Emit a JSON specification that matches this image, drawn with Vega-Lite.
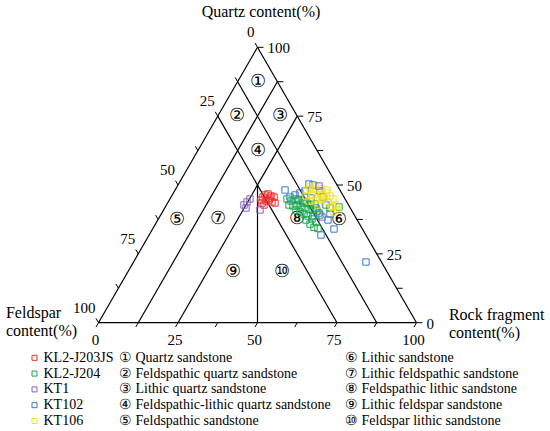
{
  "$schema": "https://vega.github.io/schema/vega-lite/v6.json",
  "width": 318,
  "height": 275.4,
  "autosize": {"type": "none"},
  "padding": {"left": 98.5, "top": 47.3, "right": 133.5, "bottom": 108.3},
  "background": "white",
  "config": {"view": {"stroke": null}, "font": "Liberation Serif, Times New Roman, serif"},
  "datasets": {
    "lines": [
      {"x": 0, "y": 0, "x2": 100, "y2": 0},
      {"x": 0, "y": 0, "x2": 50, "y2": 100},
      {"x": 100, "y": 0, "x2": 50, "y2": 100},
      {"x": 43.75, "y": 87.5, "x2": 87.5, "y2": 0},
      {"x": 37.5, "y": 75, "x2": 75, "y2": 0},
      {"x": 56.25, "y": 87.5, "x2": 12.5, "y2": 0},
      {"x": 62.5, "y": 75, "x2": 25, "y2": 0},
      {"x": 50, "y": 50, "x2": 50, "y2": 0}
    ],
    "ticks": [
      {"side": "bottom", "v": 0, "x": 0, "y": 0, "major": true},
      {"side": "bottom", "v": 12.5, "x": 12.5, "y": 0, "major": false},
      {"side": "bottom", "v": 25, "x": 25, "y": 0, "major": true},
      {"side": "bottom", "v": 37.5, "x": 37.5, "y": 0, "major": false},
      {"side": "bottom", "v": 50, "x": 50, "y": 0, "major": true},
      {"side": "bottom", "v": 62.5, "x": 62.5, "y": 0, "major": false},
      {"side": "bottom", "v": 75, "x": 75, "y": 0, "major": true},
      {"side": "bottom", "v": 87.5, "x": 87.5, "y": 0, "major": false},
      {"side": "bottom", "v": 100, "x": 100, "y": 0, "major": true},
      {"side": "right", "v": 0, "x": 100, "y": 0, "major": true},
      {"side": "right", "v": 12.5, "x": 93.75, "y": 12.5, "major": false},
      {"side": "right", "v": 25, "x": 87.5, "y": 25, "major": true},
      {"side": "right", "v": 37.5, "x": 81.25, "y": 37.5, "major": false},
      {"side": "right", "v": 50, "x": 75, "y": 50, "major": true},
      {"side": "right", "v": 62.5, "x": 68.75, "y": 62.5, "major": false},
      {"side": "right", "v": 75, "x": 62.5, "y": 75, "major": true},
      {"side": "right", "v": 87.5, "x": 56.25, "y": 87.5, "major": false},
      {"side": "right", "v": 100, "x": 50, "y": 100, "major": true},
      {"side": "left", "v": 0, "x": 50, "y": 100, "major": true},
      {"side": "left", "v": 12.5, "x": 43.75, "y": 87.5, "major": false},
      {"side": "left", "v": 25, "x": 37.5, "y": 75, "major": true},
      {"side": "left", "v": 37.5, "x": 31.25, "y": 62.5, "major": false},
      {"side": "left", "v": 50, "x": 25, "y": 50, "major": true},
      {"side": "left", "v": 62.5, "x": 18.75, "y": 37.5, "major": false},
      {"side": "left", "v": 75, "x": 12.5, "y": 25, "major": true},
      {"side": "left", "v": 87.5, "x": 6.25, "y": 12.5, "major": false},
      {"side": "left", "v": 100, "x": 0, "y": 0, "major": true}
    ],
    "regions": [
      {"n": "①", "name": "① Quartz sandstone", "x": 50, "y": 87.5},
      {"n": "②", "name": "② Feldspathic quartz sandstone", "x": 43.6, "y": 75.2},
      {"n": "③", "name": "③ Lithic quartz sandstone", "x": 57, "y": 75.2},
      {"n": "④", "name": "④ Feldspathic-lithic quartz sandstone", "x": 50.2, "y": 62.5},
      {"n": "⑤", "name": "⑤ Feldspathic sandstone", "x": 24.7, "y": 37.3},
      {"n": "⑥", "name": "⑥ Lithic sandstone", "x": 75.6, "y": 37.3},
      {"n": "⑦", "name": "⑦ Lithic feldspathic sandstone", "x": 37.5, "y": 37.6},
      {"n": "⑧", "name": "⑧ Feldspathic lithic sandstone", "x": 62.4, "y": 37.6},
      {"n": "⑨", "name": "⑨ Lithic feldspar sandstone", "x": 42.3, "y": 18.4},
      {"n": "⑩", "name": "⑩ Feldspar lithic sandstone", "x": 57.6, "y": 18.5}
    ],
    "titles": [
      {"t": "Quartz content(%)", "x": 32.45, "y": 115.7},
      {"t": "Feldspar\ncontent(%)", "x": -29.1, "y": 6.3},
      {"t": "Rock fragment\ncontent(%)", "x": 110.2, "y": 5.8}
    ],
    "points": [
      {"s": "KT102", "x": 58.65, "y": 48.18},
      {"s": "KT102", "x": 60.22, "y": 45.64},
      {"s": "KT102", "x": 61.79, "y": 46.37},
      {"s": "KT102", "x": 63.36, "y": 47.09},
      {"s": "KT102", "x": 64.94, "y": 47.82},
      {"s": "KT102", "x": 66.19, "y": 50.36},
      {"s": "KT102", "x": 67.45, "y": 50.0},
      {"s": "KT102", "x": 69.65, "y": 47.82},
      {"s": "KT102", "x": 70.6, "y": 45.64},
      {"s": "KT102", "x": 68.4, "y": 41.65},
      {"s": "KT102", "x": 69.34, "y": 39.83},
      {"s": "KT102", "x": 67.45, "y": 38.74},
      {"s": "KT102", "x": 72.17, "y": 37.29},
      {"s": "KT102", "x": 72.8, "y": 39.47},
      {"s": "KT102", "x": 74.06, "y": 34.02},
      {"s": "KT102", "x": 69.97, "y": 31.84},
      {"s": "KT102", "x": 84.12, "y": 22.04},
      {"s": "KT102", "x": 62.74, "y": 44.55},
      {"s": "KT102", "x": 64.31, "y": 43.46},
      {"s": "KT102", "x": 66.82, "y": 45.28},
      {"s": "KT102", "x": 71.54, "y": 42.74},
      {"s": "KL2-J204", "x": 59.28, "y": 44.92},
      {"s": "KL2-J204", "x": 60.53, "y": 44.19},
      {"s": "KL2-J204", "x": 61.79, "y": 44.92},
      {"s": "KL2-J204", "x": 63.05, "y": 44.55},
      {"s": "KL2-J204", "x": 64.31, "y": 44.19},
      {"s": "KL2-J204", "x": 65.57, "y": 43.46},
      {"s": "KL2-J204", "x": 66.82, "y": 42.74},
      {"s": "KL2-J204", "x": 68.08, "y": 43.1},
      {"s": "KL2-J204", "x": 59.91, "y": 42.74},
      {"s": "KL2-J204", "x": 61.16, "y": 42.37},
      {"s": "KL2-J204", "x": 62.42, "y": 42.74},
      {"s": "KL2-J204", "x": 63.68, "y": 42.01},
      {"s": "KL2-J204", "x": 64.94, "y": 41.65},
      {"s": "KL2-J204", "x": 66.19, "y": 41.29},
      {"s": "KL2-J204", "x": 67.45, "y": 40.92},
      {"s": "KL2-J204", "x": 68.71, "y": 40.56},
      {"s": "KL2-J204", "x": 63.36, "y": 40.2},
      {"s": "KL2-J204", "x": 64.62, "y": 39.47},
      {"s": "KL2-J204", "x": 65.88, "y": 38.74},
      {"s": "KL2-J204", "x": 67.14, "y": 37.65},
      {"s": "KL2-J204", "x": 68.4, "y": 36.56},
      {"s": "KL2-J204", "x": 66.51, "y": 35.8},
      {"s": "KL2-J204", "x": 67.77, "y": 34.6},
      {"s": "KL2-J204", "x": 69.03, "y": 34.2},
      {"s": "KL2-J204", "x": 65.25, "y": 37.29},
      {"s": "KL2-J204", "x": 62.11, "y": 40.92},
      {"s": "KL2-J204", "x": 75.63, "y": 42.01},
      {"s": "KL2-J204", "x": 72.8, "y": 41.65},
      {"s": "KL2-J204", "x": 69.65, "y": 39.11},
      {"s": "KT106", "x": 65.57, "y": 48.18},
      {"s": "KT106", "x": 66.51, "y": 49.27},
      {"s": "KT106", "x": 67.77, "y": 48.55},
      {"s": "KT106", "x": 69.03, "y": 47.46},
      {"s": "KT106", "x": 70.28, "y": 48.55},
      {"s": "KT106", "x": 71.54, "y": 47.09},
      {"s": "KT106", "x": 72.8, "y": 46.01},
      {"s": "KT106", "x": 73.74, "y": 44.92},
      {"s": "KT106", "x": 74.69, "y": 42.74},
      {"s": "KT106", "x": 67.14, "y": 46.37},
      {"s": "KT106", "x": 68.4, "y": 45.28},
      {"s": "KT106", "x": 69.65, "y": 44.55},
      {"s": "KT106", "x": 70.91, "y": 45.28},
      {"s": "KT106", "x": 72.17, "y": 43.83},
      {"s": "KT106", "x": 73.43, "y": 42.01},
      {"s": "KT106", "x": 65.25, "y": 46.01},
      {"s": "KT106", "x": 66.19, "y": 44.19},
      {"s": "KT106", "x": 69.03, "y": 42.74},
      {"s": "KT106", "x": 74.06, "y": 40.2},
      {"s": "KT106", "x": 75.31, "y": 40.92},
      {"s": "KT106", "x": 70.28, "y": 46.37},
      {"s": "KT106", "x": 68.08, "y": 49.64},
      {"s": "KT106", "x": 71.86, "y": 48.18},
      {"s": "KL2-J203JS", "x": 51.1, "y": 44.55},
      {"s": "KL2-J203JS", "x": 51.73, "y": 45.64},
      {"s": "KL2-J203JS", "x": 52.36, "y": 46.37},
      {"s": "KL2-J203JS", "x": 53.3, "y": 46.73},
      {"s": "KL2-J203JS", "x": 54.25, "y": 46.01},
      {"s": "KL2-J203JS", "x": 55.19, "y": 45.64},
      {"s": "KL2-J203JS", "x": 51.42, "y": 43.46},
      {"s": "KL2-J203JS", "x": 52.67, "y": 44.19},
      {"s": "KL2-J203JS", "x": 53.62, "y": 44.55},
      {"s": "KL2-J203JS", "x": 54.56, "y": 43.83},
      {"s": "KL2-J203JS", "x": 52.04, "y": 42.74},
      {"s": "KL2-J203JS", "x": 55.5, "y": 43.46},
      {"s": "KL2-J203JS", "x": 53.93, "y": 45.28},
      {"s": "KT1", "x": 45.75, "y": 42.74},
      {"s": "KT1", "x": 46.7, "y": 43.83},
      {"s": "KT1", "x": 47.64, "y": 44.92},
      {"s": "KT1", "x": 46.38, "y": 41.65},
      {"s": "KT1", "x": 50.79, "y": 40.92},
      {"s": "KT1", "x": 69.34, "y": 49.64},
      {"s": "KT1", "x": 70.28, "y": 38.38}
    ]
  },
  "layer": [
    {
      "data": {"name": "lines"},
      "mark": {"type": "rule", "color": "black", "strokeWidth": 1.2},
      "encoding": {
        "x": {"field": "x", "type": "quantitative", "scale": {"domain": [0, 100], "nice": false, "zero": false}, "axis": null},
        "y": {"field": "y", "type": "quantitative", "scale": {"domain": [0, 100], "nice": false, "zero": false}, "axis": null},
        "x2": {"field": "x2"},
        "y2": {"field": "y2"}
      }
    },
    {
      "data": {"name": "ticks"},
      "transform": [{"filter": {"field": "side", "equal": "bottom"}}],
      "mark": {"type": "point", "shape": "M0,0L-0.5,0.866", "size": 100, "filled": false, "stroke": "black", "strokeWidth": 1, "opacity": 1},
      "encoding": {
        "x": {"field": "x", "type": "quantitative"},
        "y": {"field": "y", "type": "quantitative"}
      }
    },
    {
      "data": {"name": "ticks"},
      "transform": [{"filter": {"field": "side", "equal": "right"}}],
      "mark": {"type": "point", "shape": "M0,0L1,0", "size": 144, "filled": false, "stroke": "black", "strokeWidth": 1, "opacity": 1},
      "encoding": {
        "x": {"field": "x", "type": "quantitative"},
        "y": {"field": "y", "type": "quantitative"}
      }
    },
    {
      "data": {"name": "ticks"},
      "transform": [{"filter": {"field": "side", "equal": "left"}}],
      "mark": {"type": "point", "shape": "M0,0L-0.5,-0.866", "size": 100, "filled": false, "stroke": "black", "strokeWidth": 1, "opacity": 1},
      "encoding": {
        "x": {"field": "x", "type": "quantitative"},
        "y": {"field": "y", "type": "quantitative"}
      }
    },
    {
      "data": {"name": "ticks"},
      "transform": [{"filter": {"field": "side", "equal": "bottom"}}, {"filter": {"field": "major", "equal": true}}],
      "mark": {"type": "text", "font": "Liberation Serif, Times New Roman, serif", "fontSize": 15, "color": "black", "align": "center", "baseline": "middle", "dx": -3, "dy": 17.5},
      "encoding": {
        "x": {"field": "x", "type": "quantitative"},
        "y": {"field": "y", "type": "quantitative"},
        "text": {"field": "v", "type": "quantitative", "format": "d"}
      }
    },
    {
      "data": {"name": "ticks"},
      "transform": [{"filter": {"field": "side", "equal": "right"}}, {"filter": {"field": "major", "equal": true}}],
      "mark": {"type": "text", "font": "Liberation Serif, Times New Roman, serif", "fontSize": 15, "color": "black", "align": "left", "baseline": "middle", "dx": 10, "dy": 1},
      "encoding": {
        "x": {"field": "x", "type": "quantitative"},
        "y": {"field": "y", "type": "quantitative"},
        "text": {"field": "v", "type": "quantitative", "format": "d"}
      }
    },
    {
      "data": {"name": "ticks"},
      "transform": [{"filter": {"field": "side", "equal": "left"}}, {"filter": {"field": "major", "equal": true}}],
      "mark": {"type": "text", "font": "Liberation Serif, Times New Roman, serif", "fontSize": 15, "color": "black", "align": "right", "baseline": "middle", "dx": -3, "dy": -15},
      "encoding": {
        "x": {"field": "x", "type": "quantitative"},
        "y": {"field": "y", "type": "quantitative"},
        "text": {"field": "v", "type": "quantitative", "format": "d"}
      }
    },
    {
      "data": {"name": "titles"},
      "mark": {"type": "text", "font": "Liberation Serif, Times New Roman, serif", "fontSize": 16, "color": "black", "align": "left", "baseline": "top", "lineBreak": "\n", "lineHeight": 18},
      "encoding": {
        "x": {"field": "x", "type": "quantitative"},
        "y": {"field": "y", "type": "quantitative"},
        "text": {"field": "t", "type": "nominal"}
      }
    },
    {
      "data": {"name": "regions"},
      "mark": {"type": "text", "font": "Liberation Serif, Times New Roman, serif", "fontSize": 18, "color": "black", "align": "center", "baseline": "middle"},
      "encoding": {
        "x": {"field": "x", "type": "quantitative"},
        "y": {"field": "y", "type": "quantitative"},
        "text": {"field": "n", "type": "nominal"}
      }
    },
    {
      "data": {"name": "regions"},
      "mark": {"type": "point", "opacity": 0},
      "encoding": {
        "x": {"field": "x", "type": "quantitative"},
        "y": {"field": "y", "type": "quantitative"},
        "shape": {
          "field": "name", "type": "nominal",
          "scale": {
            "domain": ["① Quartz sandstone", "② Feldspathic quartz sandstone", "③ Lithic quartz sandstone", "④ Feldspathic-lithic quartz sandstone", "⑤ Feldspathic sandstone", "⑥ Lithic sandstone", "⑦ Lithic feldspathic sandstone", "⑧ Feldspathic lithic sandstone", "⑨ Lithic feldspar sandstone", "⑩ Feldspar lithic sandstone"],
            "range": ["circle", "circle", "circle", "circle", "circle", "circle", "circle", "circle", "circle", "circle"]
          },
          "legend": {"title": null, "orient": "none", "legendX": 6.5, "legendY": 303.5, "columns": 2, "columnPadding": 0, "symbolOpacity": 0, "symbolSize": 1, "labelOffset": 0, "labelFont": "Liberation Serif, Times New Roman, serif", "labelFontSize": 14, "labelColor": "black", "rowPadding": 1.8, "padding": 0, "labelLimit": 400}
        }
      }
    },
    {
      "data": {"name": "points"},
      "mark": {"type": "point", "shape": "square", "filled": false, "size": 40, "strokeWidth": 1, "opacity": 1},
      "encoding": {
        "x": {"field": "x", "type": "quantitative"},
        "y": {"field": "y", "type": "quantitative"},
        "color": {
          "field": "s", "type": "nominal",
          "scale": {"domain": ["KL2-J203JS", "KL2-J204", "KT1", "KT102", "KT106"], "range": ["#ee2b2b", "#16a84b", "#8a5fc8", "#3478d6", "#f2e21a"]},
          "legend": {"title": null, "orient": "none", "legendX": -71, "legendY": 303.5, "symbolType": "square", "symbolSize": 25, "symbolStrokeWidth": 1, "labelOffset": 2, "labelFont": "Liberation Serif, Times New Roman, serif", "labelFontSize": 14, "labelColor": "black", "rowPadding": 1.8, "padding": 0, "labelLimit": 300}
        }
      }
    }
  ]
}
